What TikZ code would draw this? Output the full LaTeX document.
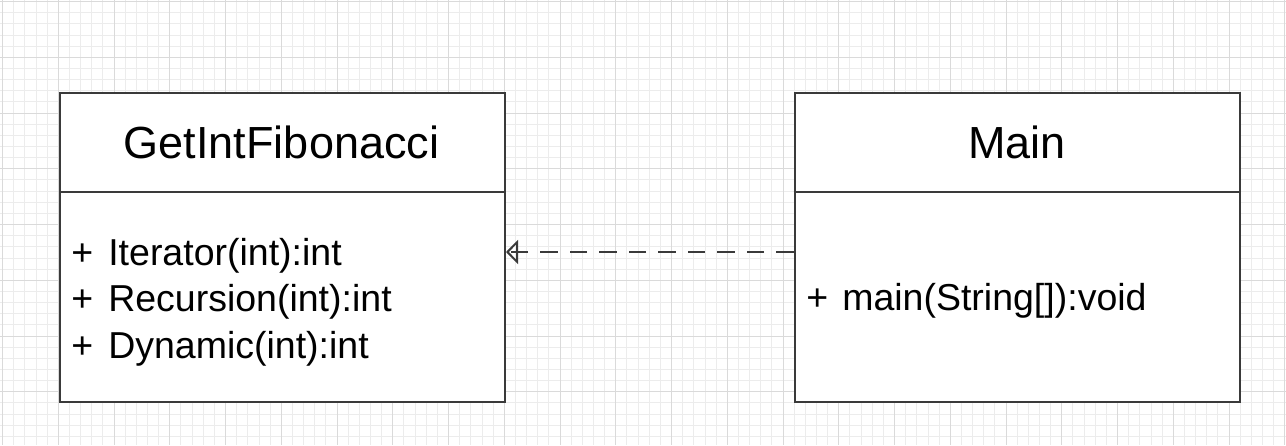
\documentclass[tikz,border=0pt]{standalone}
\usepackage{fontspec}
\setmainfont{Liberation Sans}
\usetikzlibrary{arrows.meta}
\definecolor{gridminor}{HTML}{ECECEC}
\definecolor{gridmajor}{HTML}{DADADA}
\definecolor{edge}{HTML}{3A3A3A}
\tikzset{
  minorline/.style={gridminor, line width=1pt},
  majorline/.style={gridmajor, line width=1pt},
  classbox/.style={draw=edge, fill=white, line width=2pt, minimum width=445.5pt, minimum height=309.5pt, inner sep=0pt},
  divider/.style={edge, line width=2pt},
  titletext/.style={anchor=base, inner sep=0pt, font=\fontsize{45}{45}\selectfont},
  membertext/.style={anchor=base west, inner sep=0pt, font=\fontsize{37.5}{37.5}\selectfont},
  dependline/.style={edge, line width=2pt, dash pattern=on 17.5pt off 12pt},
  dependhead/.style={edge, line width=2pt, solid, -{Triangle[open, length=12pt, width=24pt]}}
}
\begin{document}
\begin{tikzpicture}[x=1pt, y=-1pt]
\useasboundingbox (0,0) rectangle (1286,445);
\fill[white] (0,0) rectangle (1286,445);
% grid
\foreach \i in {0,...,115} \draw[minorline] ({2.55+\i*11.15},0) -- ({2.55+\i*11.15},445);
\foreach \j in {0,...,39} \draw[minorline] (0,{1.55+\j*11.15}) -- (1286,{1.55+\j*11.15});
\foreach \i in {0,...,23} \draw[majorline] ({2.55+\i*55.75},0) -- ({2.55+\i*55.75},445);
\foreach \j in {0,...,7} \draw[majorline] (0,{1.55+\j*55.75}) -- (1286,{1.55+\j*55.75});
% classes
\node[classbox] (fib) at (282.25,247.25) {};
\node[classbox] (main) at (1017.25,247.25) {};
\coordinate (divy) at (0,191.5);
\draw[divider] (fib.west |- divy) -- (fib.east |- divy);
\draw[divider] (main.west |- divy) -- (main.east |- divy);
\node[titletext] (fibtitle) at (281.5,158.3) {GetIntFibonacci};
\node[titletext] (maintitle) at (1017,158.3) {Main};
\node[membertext] (m1) at (71.2,265) {+\hspace{15pt}Iterator(int):int};
\node[membertext] (m2) at (71.2,311.8) {+\hspace{15pt}Recursion(int):int};
\node[membertext] (m3) at (71.2,358.4) {+\hspace{15pt}Dynamic(int):int};
\node[membertext] (m4) at (806.2,310) {+\hspace{14pt}main(String[]):void};
% dependency
\coordinate (arrowy) at (0,252);
\draw[dependline] (main.west |- arrowy) -- (fib.east |- arrowy);
\draw[dependhead] (fib.east |- arrowy) ++(14,0) -- (fib.east |- arrowy);
\end{tikzpicture}
\end{document}
